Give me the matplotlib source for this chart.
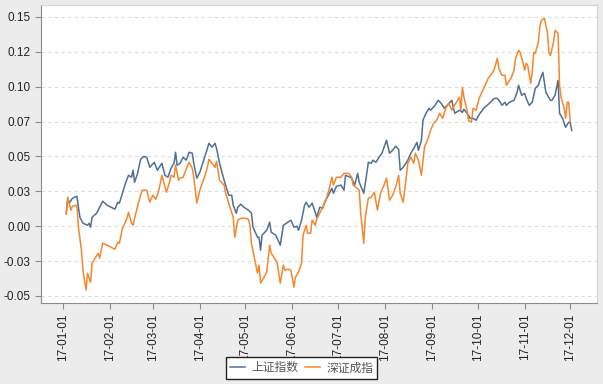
import matplotlib
matplotlib.use('Agg')
import matplotlib.pyplot as plt
import matplotlib.dates as mdates
import pandas as pd

plt.rcParams['font.family'] = ['Liberation Sans', 'Noto Sans CJK SC', 'DejaVu Sans']

# 上证指数 cumulative return
sh_dates = ['01-03', '01-04', '01-05', '01-07', '01-10', '01-11', '01-12', '01-14', '01-17', '01-18',
            '01-19', '01-20', '01-23', '01-27', '01-30', '02-04', '02-06', '02-07', '02-09', '02-11',
            '02-13', '02-15', '02-16', '02-17', '02-19', '02-21', '02-23', '02-25', '02-27', '03-02',
            '03-04', '03-07', '03-09', '03-11', '03-13', '03-15', '03-16', '03-17', '03-19', '03-21',
            '03-23', '03-25', '03-27', '03-28', '03-30', '04-01', '04-05', '04-07', '04-09', '04-11',
            '04-12', '04-14', '04-17', '04-19', '04-20', '04-22', '04-23', '04-25', '04-26', '04-28',
            '04-30', '05-03', '05-05', '05-06', '05-09', '05-10', '05-11', '05-12', '05-15', '05-17',
            '05-18', '05-21', '05-24', '05-26', '05-29', '05-31', '06-02', '06-04', '06-05', '06-07',
            '06-09', '06-10', '06-12', '06-14', '06-16', '06-17', '06-19', '06-21', '06-22', '06-24',
            '06-27', '06-28', '06-30', '07-03', '07-05', '07-06', '07-09', '07-10', '07-12', '07-14',
            '07-15', '07-18', '07-20', '07-21', '07-23', '07-24', '07-26', '07-28', '07-30', '08-02',
            '08-04', '08-06', '08-08', '08-10', '08-11', '08-13', '08-16', '08-18', '08-20', '08-22',
            '08-23', '08-25', '08-26', '08-28', '08-30', '08-31', '09-03', '09-05', '09-07', '09-09',
            '09-11', '09-14', '09-15', '09-16', '09-19', '09-21', '09-22', '09-25', '09-26', '09-28',
            '09-30', '10-02', '10-05', '10-08', '10-12', '10-14', '10-16', '10-17', '10-19', '10-20',
            '10-22', '10-25', '10-27', '10-28', '10-30', '11-01', '11-02', '11-04', '11-06', '11-08',
            '11-10', '11-11', '11-13', '11-15', '11-18', '11-19', '11-21', '11-23', '11-24', '11-26',
            '11-28', '11-30', '12-01', '12-02']
sh_values = [0.0095, 0.0200, 0.0165, 0.0200, 0.0215, 0.0136, 0.0064, 0.0021, 0.0007, 0.0021,
             -0.0007, 0.0064, 0.0093, 0.0179, 0.0150, 0.0122, 0.0172, 0.0165, 0.0236, 0.0308,
             0.0365, 0.0351, 0.0401, 0.0315, 0.0379, 0.0480, 0.0500, 0.0494, 0.0422, 0.0458,
             0.0401, 0.0451, 0.0365, 0.0351, 0.0415, 0.0451, 0.0530, 0.0437, 0.0451, 0.0494,
             0.0473, 0.0530, 0.0523, 0.0451, 0.0344, 0.0387, 0.0523, 0.0594, 0.0566, 0.0594,
             0.0558, 0.0451, 0.0329, 0.0258, 0.0222, 0.0222, 0.0150, 0.0093, 0.0136, 0.0158,
             0.0136, 0.0115, 0.0093, -0.0007, -0.0079, -0.0079, -0.0172, -0.0064, -0.0029, 0.0029,
             -0.0043, -0.0064, -0.0136, 0.0007, 0.0029, 0.0043, -0.0007, 0.0000, -0.0029, 0.0043,
             0.0150, 0.0172, 0.0136, 0.0165, 0.0100, 0.0064, 0.0136, 0.0129, 0.0165, 0.0208,
             0.0272, 0.0236, 0.0286, 0.0294, 0.0258, 0.0365, 0.0351, 0.0344, 0.0294, 0.0379,
             0.0315, 0.0236, 0.0379, 0.0458, 0.0451, 0.0473, 0.0458, 0.0494, 0.0523, 0.0616,
             0.0523, 0.0544, 0.0573, 0.0550, 0.0401, 0.0422, 0.0473, 0.0523, 0.0558, 0.0601,
             0.0544, 0.0616, 0.0759, 0.0809, 0.0845, 0.0831, 0.0866, 0.0902, 0.0881, 0.0845,
             0.0866, 0.0902, 0.0852, 0.0809, 0.0831, 0.0816, 0.0838, 0.0795, 0.0773, 0.0773,
             0.0759, 0.0800, 0.0845, 0.0873, 0.0916, 0.0916, 0.0888, 0.0866, 0.0888, 0.0866,
             0.0888, 0.0902, 0.0959, 0.1010, 0.0938, 0.0952, 0.0916, 0.0866, 0.0888, 0.0988,
             0.1010, 0.1045, 0.1103, 0.0959, 0.0902, 0.0902, 0.0938, 0.1045, 0.0809, 0.0773,
             0.0709, 0.0745, 0.0745, 0.0687]

# 深证成指 cumulative return
sz_dates = ['01-03', '01-04', '01-06', '01-07', '01-10', '01-11', '01-13', '01-14', '01-16', '01-17',
            '01-19', '01-20', '01-22', '01-24', '01-25', '01-27', '01-30', '02-04', '02-06', '02-07',
            '02-09', '02-10', '02-12', '02-13', '02-15', '02-16', '02-18', '02-20', '02-22', '02-25',
            '02-27', '03-01', '03-03', '03-05', '03-07', '03-10', '03-12', '03-13', '03-15', '03-16',
            '03-18', '03-19', '03-21', '03-24', '03-25', '03-27', '03-28', '03-30', '04-01', '04-04',
            '04-06', '04-07', '04-09', '04-11', '04-12', '04-14', '04-17', '04-18', '04-20', '04-23',
            '04-24', '04-26', '04-28', '05-01', '05-03', '05-04', '05-05', '05-07', '05-09', '05-10',
            '05-11', '05-13', '05-15', '05-17', '05-18', '05-21', '05-22', '05-24', '05-26', '05-27',
            '05-29', '05-31', '06-02', '06-03', '06-05', '06-07', '06-08', '06-10', '06-11', '06-13',
            '06-14', '06-16', '06-17', '06-19', '06-21', '06-23', '06-25', '06-27', '06-28', '06-30',
            '07-03', '07-05', '07-08', '07-10', '07-11', '07-13', '07-15', '07-16', '07-18', '07-19',
            '07-21', '07-23', '07-25', '07-27', '07-29', '07-31', '08-02', '08-04', '08-06', '08-08',
            '08-10', '08-11', '08-13', '08-15', '08-16', '08-18', '08-20', '08-21', '08-23', '08-25',
            '08-27', '08-29', '08-31', '09-02', '09-04', '09-06', '09-08', '09-10', '09-12', '09-14',
            '09-15', '09-17', '09-19', '09-20', '09-21', '09-22', '09-24', '09-25', '09-27', '09-28',
            '09-30', '10-02', '10-05', '10-08', '10-11', '10-12', '10-14', '10-15', '10-17', '10-19',
            '10-20', '10-23', '10-25', '10-26', '10-28', '10-29', '10-31', '11-01', '11-02', '11-03',
            '11-05', '11-06', '11-07', '11-08', '11-10', '11-11', '11-12', '11-14', '11-16', '11-17',
            '11-18', '11-20', '11-21', '11-23', '11-24', '11-25', '11-27', '11-28', '11-29', '11-30',
            '12-01']
sz_values = [0.0086, 0.0208, 0.0115, 0.0143, 0.0150, -0.0007, -0.0172, -0.0315, -0.0458, -0.0337,
             -0.0401, -0.0265, -0.0229, -0.0193, -0.0229, -0.0122, -0.0136, -0.0165, -0.0115, -0.0122,
             -0.0014, 0.0007, 0.0057, 0.0100, 0.0021, 0.0007, 0.0100, 0.0186, 0.0258, 0.0258,
             0.0172, 0.0222, 0.0193, 0.0258, 0.0365, 0.0243, 0.0315, 0.0365, 0.0351, 0.0437,
             0.0329, 0.0344, 0.0351, 0.0437, 0.0458, 0.0415, 0.0351, 0.0165, 0.0258, 0.0351,
             0.0422, 0.0480, 0.0451, 0.0422, 0.0465, 0.0329, 0.0294, 0.0236, 0.0165, 0.0064,
             -0.0079, 0.0043, 0.0057, 0.0057, 0.0050, 0.0007, -0.0122, -0.0229, -0.0337, -0.0279,
             -0.0408, -0.0372, -0.0329, -0.0136, -0.0193, -0.0243, -0.0265, -0.0408, -0.0279, -0.0315,
             -0.0308, -0.0315, -0.0437, -0.0365, -0.0329, -0.0265, -0.0064, 0.0007, -0.0050, -0.0050,
             0.0043, 0.0007, 0.0050, 0.0093, 0.0136, 0.0186, 0.0258, 0.0351, 0.0294, 0.0351,
             0.0351, 0.0379, 0.0379, 0.0351, 0.0294, 0.0279, 0.0258, 0.0093, -0.0122, 0.0064,
             0.0200, 0.0208, 0.0243, 0.0115, 0.0236, 0.0286, 0.0344, 0.0186, 0.0222, 0.0279,
             0.0365, 0.0236, 0.0172, 0.0351, 0.0451, 0.0494, 0.0451, 0.0523, 0.0473, 0.0365,
             0.0566, 0.0616, 0.0687, 0.0737, 0.0759, 0.0809, 0.0773, 0.0845, 0.0881, 0.0831,
             0.0852, 0.0888, 0.0924, 0.0831, 0.0995, 0.0924, 0.0831, 0.0759, 0.0745, 0.0845,
             0.0831, 0.0916, 0.0988, 0.1060, 0.1103, 0.1124, 0.1203, 0.1131, 0.1081, 0.1081,
             0.1010, 0.1060, 0.1117, 0.1203, 0.1260, 0.1246, 0.1167, 0.1117, 0.1167, 0.1153,
             0.1024, 0.1103, 0.1246, 0.1239, 0.1317, 0.1425, 0.1475, 0.1489, 0.1389, 0.1246,
             0.1224, 0.1317, 0.1403, 0.1382, 0.1010, 0.0924, 0.0845, 0.0773, 0.0888, 0.0888,
             0.0759]

series_names = ['上证指数', '深证成指']
y_ticks = [-0.05, -0.025, 0.0, 0.025, 0.05, 0.075, 0.1, 0.125, 0.15]
y_tick_labels = ['-0.05', '-0.03', '0.00', '0.03', '0.05', '0.07', '0.10', '0.12', '0.15']

sh_x = pd.to_datetime(['2017-' + d for d in sh_dates])
sz_x = pd.to_datetime(['2017-' + d for d in sz_dates])

fig = plt.figure(figsize=(6.03, 3.84), dpi=100, facecolor='#ececec')
ax = fig.add_axes([0.068, 0.211, 0.922, 0.776])
ax.set_facecolor('white')

ax.plot(sh_x, sh_values, color='#4f7096', lw=1.1, label=series_names[0])
ax.plot(sz_x, sz_values, color='#f5872e', lw=1.1, label=series_names[1])

ax.set_ylim(-0.055, 0.1585)
ax.set_yticks(y_ticks)
ax.set_yticklabels(y_tick_labels)
ax.yaxis.grid(True, ls=(0, (3, 3)), color='#dddddd', lw=0.8)
ax.set_axisbelow(True)

ax.xaxis.set_major_locator(mdates.MonthLocator())
ax.xaxis.set_major_formatter(mdates.DateFormatter('%y-%m-%d'))
plt.setp(ax.get_xticklabels(), rotation=90)

for side in ['left', 'bottom']:
    ax.spines[side].set_color('#8c8c8c')
for side in ['top', 'right']:
    ax.spines[side].set_color('#d4d4d4')
ax.tick_params(axis='both', labelsize=8.5, colors='#8c8c8c', labelcolor='#222222', length=4)

leg = fig.legend(loc='upper center', bbox_to_anchor=(0.5, 0.085), ncol=2, frameon=True,
                 fancybox=False, edgecolor='#222222', framealpha=1, handlelength=1.3,
                 borderpad=0.35, columnspacing=0.6, handletextpad=0.5,
                 prop={'family': ['Noto Sans CJK SC', 'DejaVu Sans'], 'size': 8.5})
for t in leg.get_texts():
    t.set_color('#555555')
leg.get_frame().set_linewidth(1.0)

fig.savefig('out.png', dpi=100, facecolor=fig.get_facecolor())
